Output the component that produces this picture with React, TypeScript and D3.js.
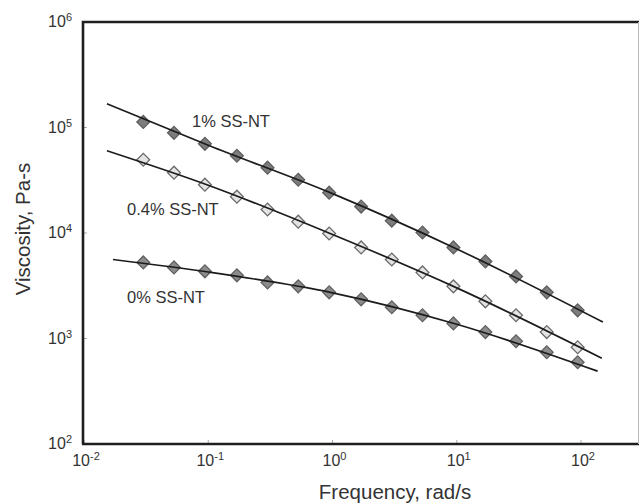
import React from "react";
import * as d3 from "d3";

// Frequencies (rad/s) of measured points
const frequency = [0.03, 0.053, 0.094, 0.17, 0.3, 0.53, 0.94, 1.7, 3, 5.3, 9.4, 17, 30, 53, 94];

// Measured viscosity (Pa-s)
const visc1 = [113000, 89000, 70000, 54000, 41600, 32000, 24100, 17800, 13100, 10100, 7300, 5380, 3880, 2740, 1850];
const visc04 = [49500, 37300, 28700, 22100, 16700, 12800, 9900, 7300, 5610, 4230, 3120, 2250, 1660, 1150, 826];
const visc0 = [5260, 4720, 4330, 3970, 3400, 3120, 2740, 2350, 1980, 1660, 1390, 1150, 942, 741, 596];

// Fitted curves
const fit1Freq = [0.0153, 0.1, 1, 10, 150];
const fit1Visc = [168000, 67900, 23600, 7060, 1430];
const fit04Freq = [0.0153, 0.1, 1, 10, 147];
const fit04Visc = [60300, 28400, 9680, 3020, 650];
const fit0Freq = [0.0171, 0.1, 1, 10, 136];
const fit0Visc = [5610, 4270, 2710, 1365, 490];

const seriesLabels = ["1% SS-NT", "0.4% SS-NT", "0% SS-NT"];
const xTicks = [0.01, 0.1, 1, 10, 100];
const yTicks = [100, 1000, 10000, 100000, 1000000];

const W = 639;
const H = 504;
const FONT = "Liberation Sans, Arial, Helvetica, sans-serif";

export default function App() {
  const x = d3.scaleLog().domain([0.01, 100]).range([84, 581]);
  const y = d3.scaleLog().domain([100, 1e6]).range([444, 22]);

  const line = d3
    .line<[number, number]>()
    .x((d) => x(d[0]))
    .y((d) => y(d[1]))
    .curve(d3.curveMonotoneX);

  const diamond = d3.symbol(d3.symbolSquare, 82)()!;

  const series = [
    { v: visc1, fill: "#7d7d7d", stroke: "#5e5e5e", fitF: fit1Freq, fitV: fit1Visc },
    { v: visc04, fill: "#e4e4e4", stroke: "#6a6a6a", fitF: fit04Freq, fitV: fit04Visc },
    { v: visc0, fill: "#8c8c8c", stroke: "#606060", fitF: fit0Freq, fitV: fit0Visc },
  ];

  const labelPos = [
    { x: 192, y: 127 },
    { x: 127, y: 215 },
    { x: 127, y: 303 },
  ];

  const exp = (v: number) => Math.round(Math.log10(v)).toString();

  return (
    <svg
      width={W}
      height={H}
      style={{ position: "absolute", left: 0, top: 0, background: "#fff" }}
      fontFamily={FONT}
    >
      <rect x={0} y={0} width={W} height={H} fill="#fff" />
      {/* ticks */}
      {xTicks.map((t) => (
        <line key={"xt" + t} x1={x(t)} x2={x(t)} y1={444} y2={440} stroke="#aaa" strokeWidth={1} />
      ))}
      {yTicks.map((t) => (
        <line key={"yt" + t} x1={83} x2={87} y1={y(t)} y2={y(t)} stroke="#aaa" strokeWidth={1} />
      ))}
      {/* markers */}
      {series.map((s, si) =>
        s.v.map((v, i) => (
          <path
            key={si + "-" + i}
            d={diamond}
            transform={`translate(${x(frequency[i])},${y(v)}) rotate(45)`}
            fill={s.fill}
            stroke={s.stroke}
            strokeWidth={1.3}
          />
        ))
      )}
      {/* fit lines */}
      {series.map((s, si) => (
        <path
          key={"fit" + si}
          d={line(s.fitF.map((f, i) => [f, s.fitV[i]] as [number, number]))!}
          fill="none"
          stroke="#1c1c1c"
          strokeWidth={1.7}
        />
      ))}
      {/* frame */}
      <path d={`M83,444 L83,22 L639,22`} fill="none" stroke="#1e1e1e" strokeWidth={2.6} />
      <line x1={82} x2={W} y1={444} y2={444} stroke="#1e1e1e" strokeWidth={2.6} />
      <line x1={638.5} x2={638.5} y1={22} y2={444} stroke="#bbb" strokeWidth={1} />
      {/* x tick labels */}
      {xTicks.map((t) => (
        <text key={"xl" + t} x={x(t) + 2} y={466} textAnchor="middle" fontSize={16} fill="#333">
          10
          <tspan dy={-6} fontSize={11}>
            {exp(t)}
          </tspan>
        </text>
      ))}
      {/* y tick labels */}
      {yTicks.map((t) => (
        <text key={"yl" + t} x={72} y={y(t) + 5} textAnchor="end" fontSize={16} fill="#333">
          10
          <tspan dy={-6} fontSize={11}>
            {exp(t)}
          </tspan>
        </text>
      ))}
      {/* series labels */}
      {seriesLabels.map((l, i) => (
        <text key={l} x={labelPos[i].x} y={labelPos[i].y} fontSize={16.5} fill="#333">
          {l}
        </text>
      ))}
      {/* axis titles */}
      <text x={395} y={499} textAnchor="middle" fontSize={20.5} fill="#333">
        Frequency, rad/s
      </text>
      <text
        transform="translate(30,229) rotate(-90)"
        textAnchor="middle"
        fontSize={20.5}
        fill="#333"
      >
        Viscosity, Pa-s
      </text>
    </svg>
  );
}
